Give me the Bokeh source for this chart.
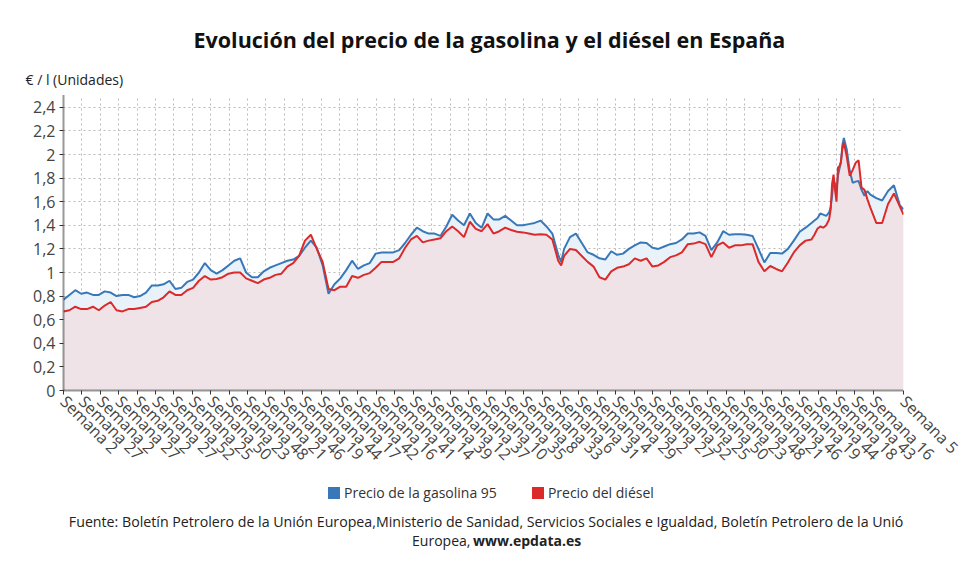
from bokeh.plotting import figure
from bokeh.layouts import column
from bokeh.models import (FixedTicker, CustomJSTickFormatter, Legend,
                          LegendItem, Range1d, Title, Label)
from bokeh.embed import file_html
from bokeh.resources import INLINE

# Posición de cada muestra en el eje (nº de semana desde el inicio de la serie)
semanas = (list(range(0, 673, 8)) + [676] + list(range(680, 1017, 8)) +
           [1020, 1024, 1028, 1032, 1036, 1040, 1042, 1044, 1046, 1048, 1050,
            1052, 1054, 1056, 1058, 1060, 1064, 1068, 1072, 1076, 1080, 1084,
            1088, 1092, 1096, 1104, 1112, 1120, 1128, 1136, 1141])

# Precio de la gasolina 95 (€/l)
gasolina_95 = [
    0.77, 0.81, 0.85, 0.82, 0.83, 0.81, 0.81, 0.84, 0.83, 0.80,
    0.81, 0.81, 0.79, 0.80, 0.83, 0.89, 0.89, 0.90, 0.93, 0.86,
    0.87, 0.92, 0.94, 1.00, 1.08, 1.02, 0.99, 1.02, 1.06, 1.10,
    1.12, 1.00, 0.96, 0.96, 1.01, 1.04, 1.06, 1.08, 1.10, 1.11,
    1.14, 1.21, 1.27, 1.21, 1.06, 0.82, 0.90, 0.95, 1.02, 1.10,
    1.03, 1.06, 1.08, 1.16, 1.17, 1.17, 1.17, 1.19, 1.25, 1.32,
    1.38, 1.35, 1.33, 1.33, 1.31, 1.39, 1.49, 1.44, 1.40, 1.50,
    1.42, 1.38, 1.50, 1.45, 1.45, 1.48, 1.44, 1.40, 1.40, 1.41,
    1.42, 1.44, 1.39, 1.33, 1.15,
    1.09,
    1.20, 1.30, 1.33, 1.25, 1.17,
    1.15, 1.12, 1.11, 1.18, 1.15, 1.16, 1.20, 1.23, 1.255, 1.25,
    1.21, 1.20, 1.22, 1.24, 1.25, 1.28, 1.33, 1.33, 1.34, 1.31,
    1.19, 1.255, 1.35, 1.32, 1.325, 1.325, 1.32, 1.31, 1.20, 1.085,
    1.165, 1.165, 1.16, 1.20, 1.27, 1.345, 1.38, 1.42,
    1.44, 1.46, 1.50, 1.49, 1.48, 1.51, 1.55, 1.65, 1.78, 1.75, 1.70,
    1.82, 1.88, 1.93, 2.08, 2.14, 2.04, 1.86, 1.76, 1.77, 1.775, 1.70,
    1.65, 1.69, 1.66, 1.63, 1.61, 1.69, 1.74, 1.57, 1.535,
]

# Precio del diésel (€/l)
diesel = [
    0.67, 0.68, 0.71, 0.69, 0.69, 0.71, 0.68, 0.72, 0.75, 0.68,
    0.67, 0.69, 0.69, 0.70, 0.71, 0.75, 0.76, 0.79, 0.84, 0.81,
    0.81, 0.85, 0.87, 0.93, 0.97, 0.94, 0.945, 0.96, 0.99, 1.00,
    1.00, 0.95, 0.93, 0.91, 0.94, 0.955, 0.98, 0.99, 1.05, 1.08,
    1.14, 1.27, 1.32, 1.20, 1.09, 0.86, 0.85, 0.88, 0.88, 0.97,
    0.955, 0.98, 0.995, 1.04, 1.09, 1.09, 1.09, 1.12, 1.21, 1.28,
    1.31, 1.255, 1.27, 1.28, 1.29, 1.35, 1.39, 1.35, 1.30, 1.43,
    1.37, 1.35, 1.41, 1.33, 1.35, 1.38, 1.36, 1.345, 1.34, 1.33,
    1.32, 1.325, 1.32, 1.28, 1.10,
    1.06,
    1.14, 1.20, 1.19, 1.14, 1.09,
    1.05, 0.96, 0.94, 1.01, 1.04, 1.05, 1.07, 1.12, 1.10, 1.12,
    1.05, 1.06, 1.09, 1.13, 1.145, 1.17, 1.24, 1.245, 1.26, 1.24,
    1.13, 1.23, 1.255, 1.21, 1.23, 1.23, 1.24, 1.24, 1.09, 1.01,
    1.055, 1.03, 1.01, 1.085, 1.17, 1.23, 1.27, 1.28,
    1.32, 1.37, 1.39, 1.38, 1.40, 1.45, 1.53, 1.75, 1.83, 1.70, 1.60,
    1.89, 1.90, 1.94, 2.05, 2.10, 1.98, 1.82, 1.87, 1.93, 1.95, 1.72,
    1.70, 1.62, 1.55, 1.42, 1.42, 1.58, 1.67, 1.56, 1.49,
]

# Etiquetas del eje X (una cada 25 semanas, más la última)
ticks_x = list(range(0, 1101, 25)) + [1141]
semana_label = [2, 27, 2, 27, 2, 27, 52, 25, 50, 23, 48, 21, 46, 19, 44, 17,
                42, 16, 41, 14, 39, 12, 37, 10, 35, 8, 33, 6, 31, 4, 29, 2, 27,
                52, 25, 50, 23, 48, 21, 46, 19, 44, 18, 43, 16, 5]
ticks_y = [0, 0.2, 0.4, 0.6, 0.8, 1, 1.2, 1.4, 1.6, 1.8, 2, 2.2, 2.4]

AZUL = "#3878b8"
ROJO = "#dc2a2a"
FUENTE = "Open Sans"
NAN = float("nan")

# ---------- gráfico principal ----------
p = figure(width=964, height=475, title=None, toolbar_location=None,
           output_backend="svg", x_range=Range1d(0, 1141), y_range=Range1d(0, 2.5),
           min_border_left=63, min_border_right=61, min_border_top=95,
           min_border_bottom=84)
p.outline_line_color = None

# áreas
p.varea(x=semanas, y1=0, y2=gasolina_95, fill_color="#e9f1f9")
p.varea(x=semanas, y1=0, y2=diesel, fill_color="#efe3e8")
# líneas
p.line(semanas, gasolina_95, line_color=AZUL, line_width=2)
p.line(semanas, diesel, line_color=ROJO, line_width=2)

# ejes
p.xaxis.ticker = FixedTicker(ticks=ticks_x)
p.xaxis.major_label_overrides = {t: f"Semana {s}" for t, s in zip(ticks_x, semana_label)}
p.xaxis.major_label_orientation = -0.785
p.yaxis.ticker = FixedTicker(ticks=ticks_y)
p.yaxis.formatter = CustomJSTickFormatter(
    code="return (Math.round(tick * 10) / 10).toString().replace('.', ',');")

for ax in (p.xaxis, p.yaxis):
    ax.axis_line_color = "#333333"
    ax.axis_line_width = 2
    ax.axis_line_dash = "1 1"
    ax.major_tick_line_color = "#333333"
    ax.major_tick_out = 4
    ax.major_tick_in = 0
    ax.minor_tick_line_color = None
    ax.major_label_text_font = FUENTE
    ax.major_label_text_font_size = "16px"
    ax.major_label_text_color = "#444444"
    ax.major_label_standoff = 4

p.grid.grid_line_color = "#bbbbbb"
p.grid.grid_line_dash = "2 3"
p.grid.grid_line_width = 1

# títulos "above": se apilan desde el área del gráfico hacia arriba
p.add_layout(Title(text="€ / l (Unidades)", align="left", offset=-38,
                   text_font=FUENTE, text_font_size="14px", text_font_style="normal",
                   text_color="#222222", standoff=13), "above")
p.add_layout(Title(text="Evolución del precio de la gasolina y el diésel en España",
                   align="left", offset=130, text_font=FUENTE, text_font_size="21.5px",
                   text_font_style="bold", text_color="#111111", standoff=16), "above")

# ---------- pie: leyenda y fuente (coordenadas en píxeles) ----------
pie = figure(width=964, height=84, toolbar_location=None, output_backend="svg",
             x_range=Range1d(0, 964), y_range=Range1d(0, 84),
             x_axis_location=None, y_axis_location=None,
             min_border=0, outline_line_color=None)
pie.grid.visible = False

leg_g = pie.quad(left=[NAN], right=[NAN], top=[NAN], bottom=[NAN],
                 fill_color=AZUL, line_color=None)
leg_d = pie.quad(left=[NAN], right=[NAN], top=[NAN], bottom=[NAN],
                 fill_color=ROJO, line_color=None)
legend = Legend(items=[LegendItem(label="Precio de la gasolina 95", renderers=[leg_g]),
                       LegendItem(label="Precio del diésel", renderers=[leg_d])],
                location=(263, 57), orientation="horizontal",
                border_line_color=None, background_fill_alpha=0,
                label_text_font=FUENTE, label_text_font_size="14px",
                label_text_color="#333333", glyph_width=15, glyph_height=15,
                label_standoff=3, spacing=33, padding=0, margin=0)
pie.add_layout(legend)


def texto(x, y, t, align="center", bold=False, size="14px"):
    pie.add_layout(Label(x=x, y=y, text=t, text_font=FUENTE, text_font_size=size,
                         text_font_style="bold" if bold else "normal",
                         text_align=align, text_baseline="middle",
                         text_color="#222222"))


texto(490, 38, "Fuente: Boletín Petrolero de la Unión Europea,Ministerio de Sanidad, "
      "Servicios Sociales e Igualdad, Boletín Petrolero de la Unión", size="14.2px")
texto(467, 19, "Europea,", align="right")
texto(470, 19, "www.epdata.es", align="left", bold=True)

layout = column(p, pie)
open("out.html", "w").write(file_html(layout, INLINE))
